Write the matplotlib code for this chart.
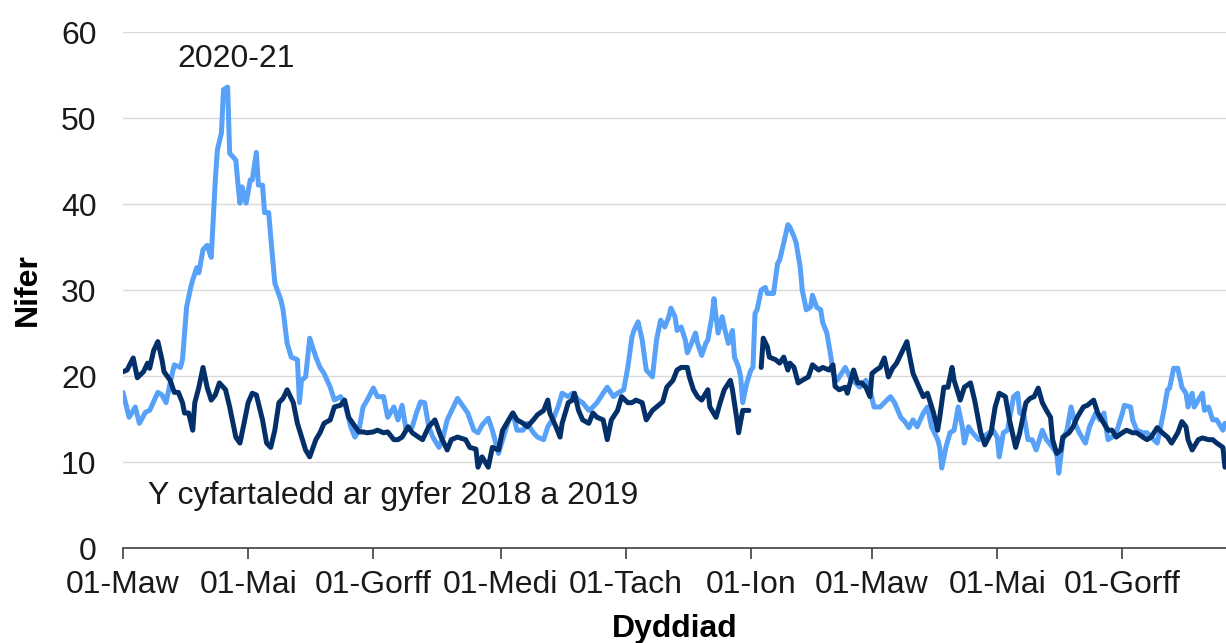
import numpy as np
import matplotlib
matplotlib.use("Agg")
import matplotlib.pyplot as plt

plt.rcParams['font.family'] = ['Liberation Sans', 'DejaVu Sans']

# days since 01-Mar-2020
cur_days = [0, 3, 6, 8, 11, 13, 17, 19, 21, 23, 25, 28, 29, 31, 33, 34, 36, 37, 39, 41, 43, 45, 46, 48, 49, 51, 52,
            55, 56, 57, 58, 60, 62, 63, 65, 66, 68, 69, 71, 72, 74, 77, 78, 80, 82, 85, 86, 87, 89, 91, 94, 96, 98,
            101, 103, 106, 108, 111, 113, 115, 117, 119, 122, 124, 127, 129, 132, 134, 136, 138, 141, 143, 145, 147,
            149, 151, 154, 156, 158, 161, 163, 166, 168, 171, 173, 175, 178, 180, 183, 185, 188, 190, 192, 195, 197,
            200, 202, 205, 207, 210, 212, 214, 217, 219, 222, 224, 227, 229, 231, 234, 236, 239, 241, 244, 246, 248,
            249, 251, 253, 255, 258, 260, 262, 264, 266, 267, 269, 270, 272, 274, 275, 277, 279, 280, 282, 284, 285,
            287, 288, 289, 290, 292, 293, 295, 297, 298, 300, 301, 302, 304, 306, 307, 308, 309, 311, 313, 314, 317,
            319, 320, 322, 324, 325, 327, 328, 330, 331, 333, 335, 336, 338, 340, 341, 343, 345, 346, 348, 352, 355,
            357, 359, 362, 364, 366, 369, 371, 374, 376, 379, 381, 383, 385, 387, 390, 392, 394, 397, 398, 399, 401,
            403, 405, 407, 409, 410, 412, 414, 417, 419, 422, 424, 426, 427, 429, 431, 434, 436, 437, 439, 441, 443,
            445, 448, 450, 453, 455, 456, 458, 460, 462, 464, 466, 469, 471, 474, 476, 478, 480, 482, 484, 487, 488,
            491, 492, 494, 497, 499, 501, 504, 505, 507, 509, 510, 512, 514, 516, 518, 519, 521, 522, 524, 526, 527,
            529, 531, 533, 536, 537]
cur_vals = [18.1, 15.2, 16.4, 14.5, 15.8, 16.0, 18.1, 17.8, 16.9, 19.2, 21.3, 21.0, 21.9, 28.0, 30.3, 31.2, 32.6,
            32.0, 34.7, 35.2, 33.8, 42.8, 46.3, 48.3, 53.3, 53.6, 45.9, 45.1, 42.4, 40.1, 42.0, 40.1, 42.8, 42.8,
            46.0, 42.2, 42.2, 39.0, 39.0, 36.2, 30.8, 28.8, 27.7, 23.8, 22.2, 21.9, 16.9, 19.5, 19.9, 24.4, 22.2,
            21.0, 20.3, 18.7, 17.2, 17.6, 16.9, 14.1, 12.9, 13.7, 16.4, 17.2, 18.6, 17.6, 17.6, 15.2, 16.4, 14.9,
            16.6, 13.7, 14.1, 15.7, 17.0, 16.9, 14.1, 12.9, 11.7, 12.9, 14.9, 16.4, 17.4, 16.4, 15.7, 13.7, 13.4,
            14.3, 15.1, 13.7, 11.0, 12.6, 14.9, 15.7, 13.7, 13.7, 14.5, 13.4, 12.9, 12.6, 14.1, 15.2, 16.4, 18.0,
            17.6, 18.0, 17.2, 16.9, 16.0, 16.4, 16.9, 18.0, 18.7, 17.6, 18.0, 18.4, 21.0, 24.5, 25.3, 26.3, 24.2,
            20.7, 19.9, 24.2, 26.5, 25.7, 26.9, 27.9, 26.9, 25.3, 25.7, 24.2, 22.7, 23.8, 25.0, 23.8, 22.4, 23.8,
            24.2, 26.9, 29.0, 26.9, 25.0, 26.9, 25.7, 23.8, 25.3, 22.2, 21.0, 19.9, 16.9, 19.2, 20.7, 21.0, 27.3,
            27.7, 30.0, 30.3, 29.6, 29.6, 33.1, 33.5, 35.5, 37.6, 37.3, 36.2, 35.5, 32.7, 30.0, 27.7, 28.0, 29.4,
            28.0, 27.7, 26.2, 25.0, 22.2, 20.3, 19.5, 21.0, 19.5, 19.2, 18.7, 19.5, 18.4, 16.4, 16.4, 16.9, 17.6,
            16.9, 15.2, 14.7, 14.0, 14.9, 14.1, 15.7, 16.4, 14.1, 12.6, 11.7, 9.3, 11.7, 13.4, 13.7, 16.4, 14.1,
            12.2, 14.1, 13.4, 12.6, 12.9, 13.4, 13.7, 12.9, 10.6, 13.4, 13.7, 17.6, 18.0, 15.7, 15.5, 12.6, 12.6,
            11.4, 13.7, 12.6, 11.7, 11.0, 8.7, 12.6, 13.7, 16.4, 14.5, 13.4, 12.2, 14.1, 15.7, 14.9, 15.7, 12.6,
            12.9, 13.4, 15.7, 16.6, 16.4, 14.9, 13.7, 13.4, 13.4, 12.9, 12.2, 13.4, 15.7, 18.4, 18.6, 20.9, 20.9,
            18.7, 18.0, 16.4, 18.0, 16.4, 17.2, 18.0, 16.0, 16.4, 14.9, 14.9, 13.7, 14.5]

avg_days = [0, 2, 5, 7, 10, 12, 13, 15, 17, 19, 20, 23, 25, 27, 29, 30, 32, 34, 35, 37, 39, 41, 43, 45, 47, 50, 52,
            55, 57, 59, 61, 63, 65, 68, 70, 72, 74, 76, 78, 80, 83, 85, 89, 91, 94, 96, 98, 101, 103, 106, 108, 110,
            112, 115, 117, 119, 122, 124, 127, 129, 132, 134, 136, 139, 141, 144, 146, 149, 152, 155, 158, 160, 163,
            167, 169, 172, 173, 175, 178, 180, 183, 185, 188, 190, 192, 195, 197, 200, 202, 205, 207, 208, 211, 213,
            214, 217, 219, 220, 222, 224, 227, 229, 231, 234, 236, 238, 241, 243, 246, 248, 250, 253, 255, 258, 260,
            263, 265, 268, 270, 272, 275, 276, 278, 280, 282, 285, 286, 289, 291, 293, 296, 297, 299, 300, 302, 303,
            305, 308, 311, 312, 314, 315, 318, 320, 322, 324, 325, 327, 329, 331, 334, 336, 339, 341, 344, 346, 347,
            349, 352, 353, 356, 358, 360, 362, 364, 365, 367, 369, 371, 373, 375, 377, 380, 382, 383, 385, 387, 390,
            392, 395, 397, 398, 400, 402, 404, 405, 408, 410, 413, 415, 418, 420, 423, 425, 427, 430, 432, 435, 437,
            440, 442, 444, 446, 448, 450, 452, 453, 455, 457, 458, 461, 463, 465, 468, 470, 473, 475, 477, 480, 482,
            484, 487, 489, 492, 494, 497, 499, 501, 504, 506, 509, 511, 514, 516, 518, 519, 521, 524, 526, 529, 531,
            533, 536, 537]
avg_vals = [20.5, 20.7, 22.1, 19.8, 20.5, 21.5, 20.9, 23.0, 24.0, 21.9, 20.5, 19.5, 18.1, 18.1, 16.9, 15.7, 15.7,
            13.7, 16.9, 18.7, 21.0, 18.7, 17.2, 17.8, 19.2, 18.4, 16.4, 12.9, 12.2, 14.5, 16.9, 18.0, 17.8, 14.9,
            12.2, 11.7, 13.7, 16.9, 17.4, 18.4, 16.9, 14.5, 11.4, 10.6, 12.6, 13.4, 14.5, 14.9, 16.4, 16.6, 17.2,
            15.2, 14.5, 13.5, 13.5, 13.4, 13.5, 13.7, 13.4, 13.5, 12.6, 12.6, 12.9, 14.1, 13.4, 12.9, 12.6, 14.1,
            14.9, 12.9, 11.4, 12.6, 12.9, 12.6, 11.7, 11.5, 9.4, 10.6, 9.4, 11.7, 11.4, 13.7, 14.9, 15.7, 14.9, 14.5,
            14.1, 14.9, 15.5, 16.0, 17.2, 15.7, 14.1, 12.9, 14.5, 16.9, 17.2, 18.0, 16.0, 14.9, 14.5, 15.7, 15.2,
            14.9, 12.6, 14.9, 16.0, 17.6, 16.9, 16.9, 17.2, 16.9, 14.9, 16.0, 16.4, 17.0, 18.7, 19.5, 20.7, 21.0,
            21.0, 19.9, 18.4, 17.6, 17.2, 18.4, 16.4, 15.2, 16.9, 18.4, 19.5, 18.4, 15.2, 13.4, 16.0, 16.0, 16.0,
            np.nan, 21.0, 24.4, 23.4, 22.2, 21.9, 21.5, 22.2, 20.7, 21.5, 21.0, 19.2, 19.5, 19.9, 21.3, 20.7, 21.0,
            20.7, 21.3, 18.8, 18.4, 18.7, 18.0, 20.7, 19.2, 19.2, 18.7, 17.6, 20.3, 20.7, 21.0, 22.1, 19.9, 20.9,
            21.5, 23.0, 24.0, 22.7, 20.3, 19.2, 17.6, 18.0, 15.7, 13.7, 15.2, 18.7, 18.7, 21.0, 19.5, 17.2, 18.7,
            19.2, 17.2, 13.4, 12.0, 13.4, 16.4, 18.0, 17.6, 14.9, 11.7, 13.4, 16.9, 17.4, 17.6, 18.6, 16.9, 16.0,
            15.2, 12.6, 11.0, 11.4, 12.9, 13.4, 14.1, 15.2, 16.4, 16.6, 17.2, 15.7, 14.9, 13.7, 13.7, 12.9, 13.4,
            13.7, 13.4, 13.4, 12.9, 12.6, 12.9, 14.0, 13.5, 12.9, 12.2, 13.4, 14.7, 14.1, 12.6, 11.4, 12.6, 12.8,
            12.6, 12.6, 12.2, 11.7, 9.4]

tick_dates = ['2020-03-01', '2020-05-01', '2020-07-01', '2020-09-01', '2020-11-01',
              '2021-01-01', '2021-03-01', '2021-05-01', '2021-07-01']
tick_labels = ['01-Maw', '01-Mai', '01-Gorff', '01-Medi', '01-Tach',
               '01-Ion', '01-Maw', '01-Mai', '01-Gorff']

start = np.datetime64('2020-03-01')
cur_x = start + np.array(cur_days).astype('timedelta64[D]')
avg_x = start + np.array(avg_days).astype('timedelta64[D]')

light = '#57A1F8'
dark = '#04306A'
txt = '#1a1a1a'

fig = plt.figure(figsize=(12.26, 6.43), dpi=100)
ax = fig.add_axes([0.1003, 0.1477, 0.8997, 0.8025])

ax.plot(cur_x, cur_vals, color=light, lw=3.6, solid_joinstyle='round', solid_capstyle='round')
ax.plot(avg_x, avg_vals, color=dark, lw=3.6, solid_joinstyle='round', solid_capstyle='round')

ax.set_ylim(0, 60)
ax.set_yticks(range(0, 61, 10))
ax.set_xlim(start, start + np.timedelta64(537, 'D') + np.timedelta64(12, 'h'))
ax.set_xticks(np.array(tick_dates, dtype='datetime64[D]'))
ax.set_xticklabels(tick_labels)

ax.grid(axis='y', color='#D9D9D9', lw=1)
ax.set_axisbelow(True)
for s in ['top', 'right', 'left']:
    ax.spines[s].set_visible(False)
ax.spines['bottom'].set_color('#404040')
ax.spines['bottom'].set_linewidth(1.2)
ax.tick_params(axis='x', direction='out', length=8, width=1.2, color='#404040',
               labelsize=23, pad=8, labelcolor=txt)
ax.tick_params(axis='y', length=0, labelsize=23, pad=19, labelcolor=txt)

ax.set_ylabel('Nifer', fontsize=23, fontweight='bold', labelpad=13)
ax.set_xlabel('Dyddiad', fontsize=23, fontweight='bold', labelpad=10)

ax.text(start + np.timedelta64(55, 'D'), 56.9, '2020-21', fontsize=23, ha='center', va='center', color=txt)
ax.text(start + np.timedelta64(12, 'D'), 6.0, 'Y cyfartaledd ar gyfer 2018 a 2019', fontsize=23,
        ha='left', va='center', color=txt)

fig.savefig('out.png', dpi=100)
